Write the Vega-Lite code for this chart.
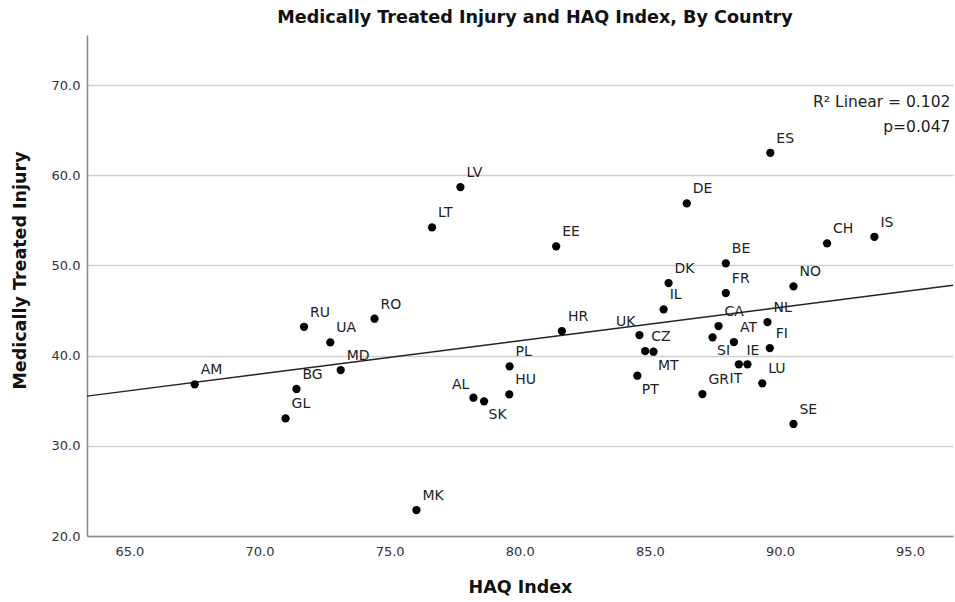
{
  "$schema": "https://vega.github.io/schema/vega-lite/v6.json",
  "width": 866,
  "height": 501,
  "autosize": {"type": "none"},
  "padding": {"left": 87, "top": 35, "right": 2, "bottom": 66},
  "background": "white",
  "title": {
    "text": "Medically Treated Injury and HAQ Index, By Country",
    "font": "DejaVu Sans",
    "fontSize": 17.6,
    "fontWeight": "bold",
    "color": "#111",
    "anchor": "middle",
    "dx": 15,
    "offset": 8
  },
  "config": {
    "view": {"stroke": null},
    "font": "DejaVu Sans",
    "axis": {
      "labelFont": "DejaVu Sans",
      "labelFontSize": 13,
      "labelColor": "#333",
      "titleFont": "DejaVu Sans",
      "titleFontSize": 17.5,
      "titleFontWeight": "bold",
      "titleColor": "#111",
      "domainColor": "#888",
      "domainWidth": 1.5,
      "ticks": false,
      "gridColor": "#d0d0d0",
      "gridWidth": 1.5
    }
  },
  "data": {
    "values": [
      {"c": "AM", "haq": 67.51, "inj": 36.82},
      {"c": "GL", "haq": 71.00, "inj": 33.05},
      {"c": "BG", "haq": 71.42, "inj": 36.30},
      {"c": "RU", "haq": 71.71, "inj": 43.20},
      {"c": "UA", "haq": 72.72, "inj": 41.47},
      {"c": "MD", "haq": 73.12, "inj": 38.40},
      {"c": "RO", "haq": 74.42, "inj": 44.09},
      {"c": "MK", "haq": 76.03, "inj": 22.88},
      {"c": "LT", "haq": 76.63, "inj": 54.22},
      {"c": "LV", "haq": 77.72, "inj": 58.69},
      {"c": "AL", "haq": 78.22, "inj": 35.33},
      {"c": "SK", "haq": 78.63, "inj": 34.93},
      {"c": "PL", "haq": 79.61, "inj": 38.81},
      {"c": "HU", "haq": 79.60, "inj": 35.71},
      {"c": "EE", "haq": 81.40, "inj": 52.12},
      {"c": "HR", "haq": 81.62, "inj": 42.73},
      {"c": "PT", "haq": 84.52, "inj": 37.77},
      {"c": "UK", "haq": 84.60, "inj": 42.28},
      {"c": "CZ", "haq": 84.82, "inj": 40.51},
      {"c": "MT", "haq": 85.14, "inj": 40.43},
      {"c": "IL", "haq": 85.53, "inj": 45.13},
      {"c": "DK", "haq": 85.72, "inj": 48.05},
      {"c": "DE", "haq": 86.42, "inj": 56.88},
      {"c": "GR", "haq": 87.02, "inj": 35.74},
      {"c": "SI", "haq": 87.41, "inj": 42.03},
      {"c": "CA", "haq": 87.64, "inj": 43.28},
      {"c": "BE", "haq": 87.92, "inj": 50.23},
      {"c": "FR", "haq": 87.92, "inj": 46.94},
      {"c": "AT", "haq": 88.23, "inj": 41.51},
      {"c": "IT", "haq": 88.42, "inj": 39.04},
      {"c": "IE", "haq": 88.75, "inj": 39.04},
      {"c": "LU", "haq": 89.32, "inj": 36.93},
      {"c": "NL", "haq": 89.52, "inj": 43.72},
      {"c": "FI", "haq": 89.61, "inj": 40.84},
      {"c": "ES", "haq": 89.63, "inj": 62.49},
      {"c": "NO", "haq": 90.52, "inj": 47.68},
      {"c": "SE", "haq": 90.52, "inj": 32.42},
      {"c": "CH", "haq": 91.81, "inj": 52.45},
      {"c": "IS", "haq": 93.63, "inj": 53.18}
    ]
  },
  "encoding": {
    "x": {
      "field": "haq",
      "type": "quantitative",
      "scale": {"domain": [63.37, 96.65], "nice": false, "zero": false},
      "axis": {
        "title": "HAQ Index",
        "values": [65, 70, 75, 80, 85, 90, 95],
        "format": ".1f",
        "grid": false,
        "labelPadding": 9,
        "titleX": 433,
        "titleY": 51,
        "titleBaseline": "middle",
        "titleAlign": "center"
      }
    },
    "y": {
      "field": "inj",
      "type": "quantitative",
      "scale": {"domain": [20, 75.55], "nice": false, "zero": false},
      "axis": {
        "title": "Medically Treated Injury",
        "values": [20, 30, 40, 50, 60, 70],
        "format": ".1f",
        "grid": true,
        "labelPadding": 7,
        "titleX": -67,
        "titleY": 235,
        "titleAngle": 270,
        "titleBaseline": "middle",
        "titleAlign": "center"
      }
    }
  },
  "layer": [
    {
      "transform": [{"regression": "inj", "on": "haq", "extent": [63.37, 96.65]}],
      "mark": {"type": "line", "color": "#222", "strokeWidth": 1.4, "clip": true}
    },
    {
      "mark": {"type": "point", "filled": true, "color": "#000", "size": 68, "opacity": 1}
    },
    {
      "transform": [{"filter": {"not": {"field": "c", "oneOf": ["AL", "UK", "SK", "MT", "PT", "SI", "IT", "IE"]}}}],
      "mark": {"type": "text", "align": "left", "baseline": "middle", "dx": 6, "dy": -14, "fontSize": 14, "color": "#222"},
      "encoding": {"text": {"field": "c"}}
    },
    {
      "transform": [{"filter": {"field": "c", "oneOf": ["AL", "UK"]}}],
      "mark": {"type": "text", "align": "right", "baseline": "middle", "dx": -4, "dy": -13, "fontSize": 14, "color": "#222"},
      "encoding": {"text": {"field": "c"}}
    },
    {
      "transform": [{"filter": {"field": "c", "oneOf": ["SK", "MT", "PT", "SI"]}}],
      "mark": {"type": "text", "align": "left", "baseline": "middle", "dx": 4.5, "dy": 14, "fontSize": 14, "color": "#222"},
      "encoding": {"text": {"field": "c"}}
    },
    {
      "transform": [{"filter": {"field": "c", "oneOf": ["IT"]}}],
      "mark": {"type": "text", "align": "center", "baseline": "middle", "dx": -3, "dy": 15, "fontSize": 14, "color": "#222"},
      "encoding": {"text": {"field": "c"}}
    },
    {
      "transform": [{"filter": {"field": "c", "oneOf": ["IE"]}}],
      "mark": {"type": "text", "align": "left", "baseline": "middle", "dx": -1, "dy": -13, "fontSize": 14, "color": "#222"},
      "encoding": {"text": {"field": "c"}}
    },
    {
      "data": {"values": [{"t": "R² Linear = 0.102", "x": 96.55, "y": 68.15}, {"t": "p=0.047", "x": 96.55, "y": 65.38}]},
      "mark": {"type": "text", "align": "right", "baseline": "middle", "fontSize": 15.5, "color": "#222"},
      "encoding": {
        "x": {"field": "x", "type": "quantitative"},
        "y": {"field": "y", "type": "quantitative"},
        "text": {"field": "t"}
      }
    }
  ]
}
